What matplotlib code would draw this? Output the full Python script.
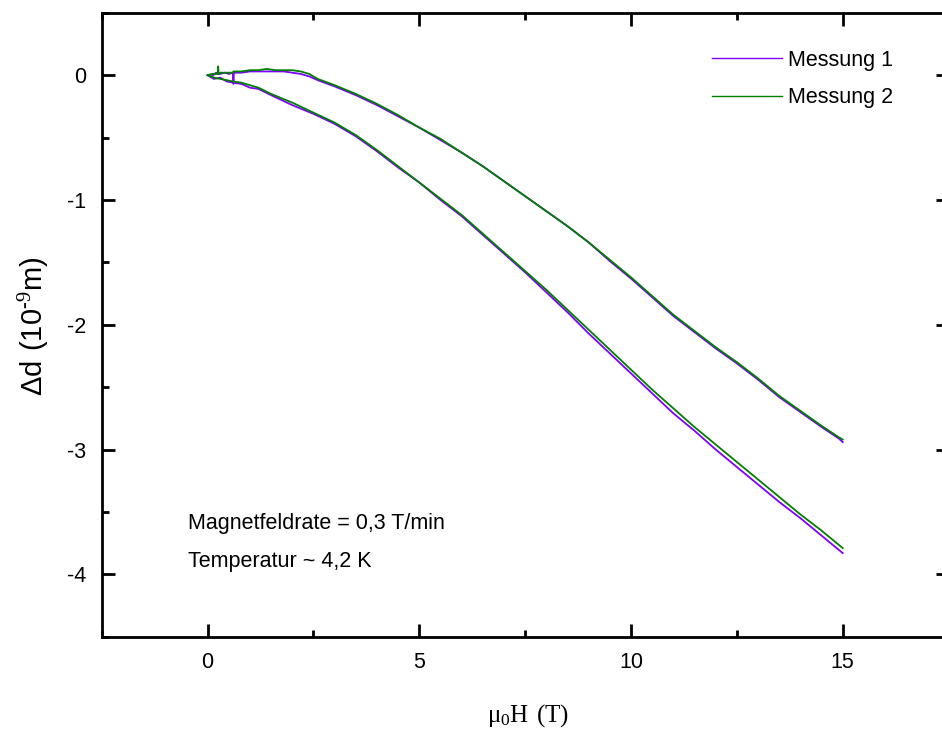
import matplotlib
matplotlib.use("Agg")
import matplotlib.pyplot as plt
from matplotlib.ticker import MultipleLocator

# ---- data (mu0H in T, delta d in 1e-9 m) ----
# upper branch of the hysteresis loop
h_upper = [0.0, 0.1, 0.2, 0.24, 0.25, 0.26, 0.3, 0.4, 0.5, 0.6, 0.61, 0.62,
           0.8, 1.0, 1.2, 1.4, 1.6, 1.8, 2.0, 2.2, 2.4, 2.6, 3.0, 3.5, 4.0,
           4.5, 5.0, 5.5, 6.0, 6.5, 7.0, 7.5, 8.0, 8.5, 9.0, 9.5, 10.0, 10.5,
           11.0, 11.5, 12.0, 12.5, 13.0, 13.5, 14.0, 14.5, 14.9, 15.0]
d1_upper = [0.0, -0.01, 0.02, 0.01, 0.01, 0.01, 0.01, 0.02, 0.01, 0.02, -0.07, 0.02,
            0.02, 0.03, 0.03, 0.03, 0.03, 0.03, 0.02, 0.01, -0.01, -0.04, -0.09, -0.16, -0.24,
            -0.33, -0.42, -0.52, -0.62, -0.73, -0.85, -0.97, -1.09, -1.21, -1.34, -1.49, -1.63, -1.78,
            -1.93, -2.06, -2.19, -2.31, -2.44, -2.58, -2.70, -2.82, -2.91, -2.94]
d2_upper = [0.0, 0.01, 0.01, 0.01, 0.07, 0.01, 0.02, 0.02, 0.02, 0.02, 0.03, 0.03,
            0.03, 0.04, 0.04, 0.05, 0.04, 0.04, 0.04, 0.03, 0.01, -0.03, -0.08, -0.15, -0.23,
            -0.32, -0.42, -0.51, -0.62, -0.73, -0.85, -0.97, -1.09, -1.21, -1.34, -1.48, -1.62, -1.77,
            -1.92, -2.05, -2.18, -2.30, -2.43, -2.57, -2.69, -2.81, -2.90, -2.92]

# lower branch of the hysteresis loop
h_lower = [0.0, 0.15, 0.3, 0.45, 0.6, 0.8, 1.0, 1.2, 1.5, 2.0, 2.5, 3.0, 3.5,
           4.0, 4.5, 5.0, 5.5, 6.0, 6.5, 7.0, 7.5, 8.0, 8.5, 9.0, 9.5, 10.0,
           10.5, 11.0, 11.5, 12.0, 12.5, 13.0, 13.5, 14.0, 14.5, 15.0]
d1_lower = [0.0, -0.03, -0.02, -0.05, -0.06, -0.07, -0.10, -0.11, -0.16, -0.24, -0.31, -0.39, -0.49,
            -0.61, -0.74, -0.86, -1.00, -1.13, -1.28, -1.43, -1.58, -1.74, -1.90, -2.07, -2.23, -2.39,
            -2.55, -2.71, -2.85, -3.00, -3.14, -3.28, -3.42, -3.55, -3.69, -3.83]
d2_lower = [0.0, -0.02, -0.03, -0.04, -0.05, -0.06, -0.08, -0.10, -0.15, -0.22, -0.30, -0.38, -0.48,
            -0.60, -0.73, -0.86, -0.99, -1.12, -1.27, -1.42, -1.57, -1.72, -1.88, -2.04, -2.20, -2.36,
            -2.52, -2.67, -2.82, -2.96, -3.10, -3.24, -3.38, -3.52, -3.65, -3.79]

labels = ["Messung 1", "Messung 2"]
colors = ["#8000ff", "#008000"]


def main():
    plt.rcParams["font.family"] = ["Liberation Sans", "DejaVu Sans"]
    plt.rcParams["axes.unicode_minus"] = False
    plt.rcParams["mathtext.fontset"] = "custom"
    plt.rcParams["mathtext.rm"] = "Liberation Serif"
    plt.rcParams["mathtext.sf"] = "Liberation Sans"

    fig = plt.figure(figsize=(9.42, 7.31), dpi=100)
    # the right spine lies just outside the picture, as in the original
    ax = fig.add_axes([0.108, 0.129, 0.899, 0.8535])

    ax.plot(h_upper, d1_upper, color=colors[0], lw=1.3, label=labels[0])
    ax.plot(h_lower, d1_lower, color=colors[0], lw=1.3)
    ax.plot(h_upper, d2_upper, color=colors[1], lw=1.3, label=labels[1])
    ax.plot(h_lower, d2_lower, color=colors[1], lw=1.3)

    ax.set_xlim(-2.5, 17.5)
    ax.set_ylim(-4.5, 0.5)
    ax.xaxis.set_major_locator(MultipleLocator(5))
    ax.xaxis.set_minor_locator(MultipleLocator(2.5))
    ax.yaxis.set_major_locator(MultipleLocator(1))
    ax.yaxis.set_minor_locator(MultipleLocator(0.5))

    for s in ax.spines.values():
        s.set_linewidth(2)
    ax.tick_params(which="both", direction="in", top=True, right=True, width=2)
    ax.tick_params(which="major", length=9.5, labelsize=15.5, pad=11)
    ax.tick_params(which="minor", length=5)

    fig.text(33 / 942, 1 - 326 / 731, r"$\mathsf{\Delta d\ (10^{\text{-9}}m)}$",
             rotation=90, ha="center", va="center", fontsize=21)
    fig.text(528 / 942, 1 - 722 / 731, r"$\mathrm{\mu_0H\ (T)}$",
             ha="center", va="baseline", fontsize=18)

    ax.text(-0.47, -3.64, "Magnetfeldrate = 0,3 T/min", fontsize=15.5, va="baseline")
    ax.text(-0.47, -3.94, "Temperatur ~ 4,2 K", fontsize=15.5, va="baseline")

    leg = ax.legend(loc="upper left", bbox_to_anchor=(712 / 942, 1 - 50 / 731),
                    bbox_transform=fig.transFigure, frameon=False, fontsize=15.5,
                    handlelength=3.25, handletextpad=0.3, borderpad=0,
                    borderaxespad=0, labelspacing=0.75)
    for line in leg.get_lines():
        line.set_linewidth(1.0)

    fig.savefig("out.png", dpi=100)


if __name__ == "__main__":
    main()
